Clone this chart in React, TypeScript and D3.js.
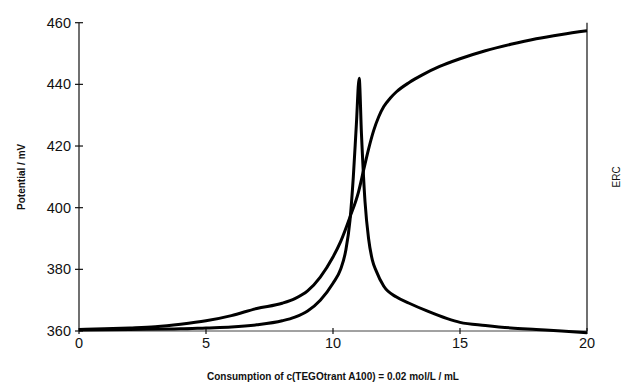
import React from "react";
import * as d3 from "d3";

// potential curve (sigmoid), mL vs mV
const potX = [0, 1, 2, 3, 4, 5, 6, 7, 8, 8.5, 9, 9.5, 10, 10.3, 10.67, 11, 11.2, 11.4, 11.6, 11.8, 12.0, 12.25, 12.5, 13, 13.5, 14.2, 15, 16, 17, 18, 19, 20];
const potY = [360.5, 360.7, 361, 361.4, 362.2, 363.3, 365, 367.3, 369, 370.5, 373, 377.5, 384, 389, 397, 405, 412, 419, 425, 429.5, 432.8, 435.5, 437.6, 440.6, 443, 445.8, 448.3, 450.9, 453, 454.8, 456.2, 457.4];

// ERC curve (peak)
const ercX = [0, 2, 4, 5, 6, 7, 8, 8.5, 9, 9.5, 10, 10.3, 10.5, 10.67, 10.8, 10.92, 11.03, 11.12, 11.26, 11.4, 11.55, 11.7, 12.0, 12.5, 13, 13.7, 14.5, 15, 16, 17, 18, 19, 20];
const ercY = [360.3, 360.5, 360.7, 361, 361.3, 362, 363.3, 364.5, 366.5, 370, 375.5, 380, 386, 396, 410, 427, 442, 424, 402, 390, 383, 379.5, 374.5, 371, 369, 366.5, 364, 362.8, 361.8, 361, 360.5, 360, 359.4];

const xTicks = [0, 5, 10, 15, 20];
const yTicks = [360, 380, 400, 420, 440, 460];

const W = 623;
const H = 386;
const left = 79;
const right = 587;
const top = 22.7;
const bottom = 331;

const font = "'Liberation Sans', Arial, sans-serif";

export default function App() {
  const x = d3.scaleLinear().domain([0, 20]).range([left, right]);
  const y = d3.scaleLinear().domain([360, 460]).range([bottom, top]);

  const line = d3
    .line<[number, number]>()
    .x((d) => x(d[0]))
    .y((d) => y(d[1]))
    .curve(d3.curveMonotoneX);

  const potPts = potX.map((v, i) => [v, potY[i]] as [number, number]);
  const ercPts = ercX.map((v, i) => [v, ercY[i]] as [number, number]);

  return (
    <svg
      width={W}
      height={H}
      style={{ position: "absolute", left: 0, top: 0, background: "#fff" }}
      fontFamily={font}
    >
      {/* axes */}
      <line x1={left} x2={left} y1={y(460)} y2={y(360)} stroke="#111" strokeWidth={1.2} />
      <line x1={right} x2={right} y1={y(460)} y2={y(360)} stroke="#111" strokeWidth={1.2} />
      <line x1={left} x2={right} y1={y(360)} y2={y(360)} stroke="#444" strokeWidth={1} />

      {yTicks.map((t) => (
        <g key={"y" + t}>
          <line x1={left - 4} x2={left + 4} y1={y(t)} y2={y(t)} stroke="#111" strokeWidth={1.2} />
          <text x={left - 8} y={y(t)} dy="0.35em" textAnchor="end" fontSize={14.5} fill="#111">
            {t}
          </text>
        </g>
      ))}

      {xTicks.map((t) => (
        <g key={"x" + t}>
          <line x1={x(t)} x2={x(t)} y1={bottom - 3} y2={bottom + 3} stroke="#111" strokeWidth={1.2} />
          <text x={x(t)} y={bottom + 17} textAnchor="middle" fontSize={14.5} fill="#111">
            {t}
          </text>
        </g>
      ))}

      {/* curves */}
      <path d={line(potPts) || ""} fill="none" stroke="#000" strokeWidth={3} strokeLinejoin="round" />
      <path d={line(ercPts) || ""} fill="none" stroke="#000" strokeWidth={3} strokeLinejoin="miter" strokeMiterlimit={20} />

      {/* titles */}
      <text x={(left + right) / 2} y={380} textAnchor="middle" fontSize={10} fontWeight="bold" fill="#111">
        Consumption of c(TEGOtrant A100) = 0.02 mol/L / mL
      </text>
      <text
        transform={`translate(25,${(top + bottom) / 2}) rotate(-90)`}
        textAnchor="middle"
        fontSize={10}
        fontWeight="bold"
        fill="#111"
      >
        Potential / mV
      </text>
      <text
        transform={`translate(620,${(top + bottom) / 2}) rotate(-90)`}
        textAnchor="middle"
        fontSize={10}
        fill="#111"
      >
        ERC
      </text>
    </svg>
  );
}
